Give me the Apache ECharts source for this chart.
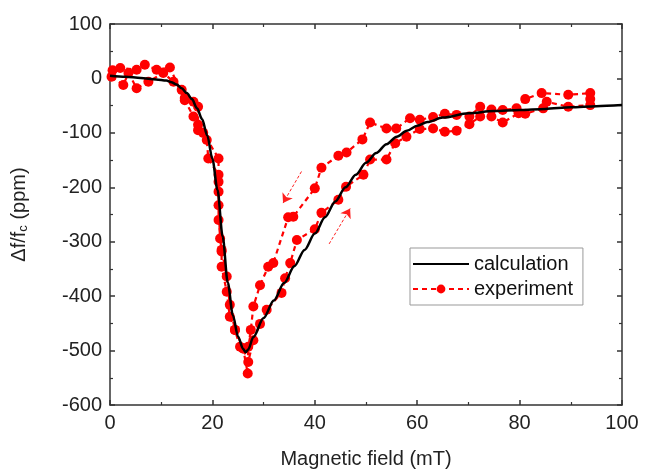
<!DOCTYPE html>
<html>
<head>
<meta charset="utf-8">
<script src="https://cdn.jsdelivr.net/npm/echarts@6/dist/echarts.min.js"></script>
<style>
html, body { margin: 0; padding: 0; background: #fff; }
#main { width: 645px; height: 474px; }
</style>
</head>
<body>
<div id="main"></div>
<script>
// calculated curve (field in mT, df/fc in ppm)
var calcX = [0, 3, 6, 9, 11, 12, 13, 14, 15, 16, 17, 18, 19, 20, 21, 22, 23, 24, 25, 26, 26.5, 27, 28, 30, 32, 34, 36, 38, 40, 42, 44, 46, 48, 50, 52, 54, 56, 58, 60, 62, 65, 70, 75, 80, 85, 90, 95, 100];
var calcY = [5, 3, 1, -2, -4, -7, -11, -18, -27, -38, -55, -75, -105, -148, -205, -290, -375, -435, -474, -497, -503, -498, -475, -440, -408, -376, -345, -315, -285, -255, -226, -200, -177, -155, -137, -121, -107, -96, -87, -80, -72, -64, -60, -58, -56, -53, -51, -49];

// measured loop: field up first, then back down
var expX = [0.3, 2.6, 3.6, 5.2, 7.5, 10.4, 12.4, 14, 14.6, 16.3, 17.2, 17.2, 18.9, 19.2, 21.2, 21.2, 21.2, 21.8, 21.8, 22.8, 23.4, 24.4, 25.4, 26, 27, 28, 29.3, 30.6, 33.5, 34.2, 35.2, 36.5, 40, 41.3, 44.6, 46.1, 49.5, 50.8, 54, 55.7, 57.9, 60.5, 63.1, 65.4, 67.7, 70.2, 72.3, 74.5, 76.7, 79.8, 81.1, 84.6, 85.3, 89.5, 93.8, 93.8,
            93.8, 89.5, 84.3, 81.1, 79.4, 76.7, 74.5, 72.3, 70.2, 67.7, 65.4, 63.1, 60.5, 58.6, 55.9, 54, 50.8, 49.3, 46.2, 44.6, 41.3, 40, 35.8, 34.8, 31.9, 30.9, 29.3, 28, 27.5, 27, 26.9, 26, 24.4, 23.4, 22.8, 21.8, 21.5, 21.2, 21.2, 21.2, 18.2, 17.2, 16.3, 14.6, 11.7, 9.1, 6.8, 5.2, 2, 0.5];
var expY = [3, -12, 10, -18, -6, 10, -6, -21, -36, -43, -52, -85, -113, -147, -177, -208, -260, -318, -346, -392, -438, -462, -493, -496, -521, -481, -451, -425, -394, -367, -339, -297, -277, -247, -223, -199, -177, -149, -149, -119, -107, -93, -92, -98, -96, -84, -70, -70, -81, -64, -65, -55, -43, -52, -49, -38,
            -27, -30, -27, -38, -55, -58, -57, -52, -70, -67, -65, -71, -76, -73, -92, -92, -81, -112, -136, -142, -164, -202, -254, -255, -339, -346, -380, -419, -462, -493, -542, -496, -462, -416, -364, -315, -294, -233, -190, -147, -100, -95, -70, -40, 20, 16, 25, 16, 19, 15];

// sweep direction arrows [x0, y0, x1, y1]
var arrowDown = [37.4, -171, 33.8, -229];
var arrowUp = [42.8, -304, 46.9, -239];

var xTicks = { min: 0, max: 100, interval: 20 };
var yTicks = { min: -600, max: 100, interval: 100 };

function pairs(xs, ys) {
	return xs.map(function(x, i) { return [x, ys[i]]; });
}

var myChart = echarts.init(document.getElementById('main'));

var axisCol = '#333';
var font = '"Liberation Sans", Arial, sans-serif';

function xAxisOpt(pos, labels) {
	return {
		type: 'value',
		position: pos,
		min: xTicks.min, max: xTicks.max, interval: xTicks.interval,
		name: labels ? 'Magnetic field (mT)' : '',
		nameLocation: 'middle',
		nameGap: 44,
		nameTextStyle: { fontFamily: font, fontSize: 20, color: '#222' },
		axisLine: { show: true, onZero: false, lineStyle: { color: axisCol, width: 1.5 } },
		axisTick: { show: true, inside: true, length: 5, lineStyle: { color: axisCol, width: 1.5 } },
		minorTick: { show: true, splitNumber: 2, length: 3, lineStyle: { color: axisCol, width: 1.2 } },
		axisLabel: { show: labels, margin: 8, fontFamily: font, fontSize: 20, color: '#222' },
		splitLine: { show: false }
	};
}

function yAxisOpt(pos, labels) {
	return {
		type: 'value',
		position: pos,
		min: yTicks.min, max: yTicks.max, interval: yTicks.interval,
		name: labels ? 'Δf/f{sub|c} (ppm)' : '',
		nameLocation: 'middle',
		nameGap: 80,
		nameTextStyle: {
			fontFamily: font, fontSize: 20, color: '#222',
			rich: { sub: { fontFamily: font, fontSize: 13, color: '#222', verticalAlign: 'bottom', padding: [8, 0, 0, 0] } }
		},
		axisLine: { show: true, onZero: false, lineStyle: { color: axisCol, width: 1.5 } },
		axisTick: { show: true, inside: true, length: 5, lineStyle: { color: axisCol, width: 1.5 } },
		minorTick: { show: true, splitNumber: 2, length: 3, lineStyle: { color: axisCol, width: 1.2 } },
		axisLabel: { show: labels, margin: 8, fontFamily: font, fontSize: 20, color: '#222' },
		splitLine: { show: false }
	};
}

var option = {
	animation: false,
	backgroundColor: '#fff',
	grid: { left: 110, right: 23, top: 24, bottom: 69 },
	xAxis: [xAxisOpt('bottom', true), xAxisOpt('top', false)],
	yAxis: [yAxisOpt('left', true), yAxisOpt('right', false)],
	legend: {
		data: [{ name: 'calculation', itemStyle: { opacity: 0 } }, 'experiment'],
		orient: 'vertical',
		left: 410,
		top: 248,
		itemWidth: 56,
		itemHeight: 11,
		itemGap: 5,
		padding: [6, 10, 6, 2],
		borderColor: '#999',
		borderWidth: 1,
		borderRadius: 0,
		textStyle: { fontFamily: font, fontSize: 20, color: '#111' }
	},
	series: [{
		name: 'experiment',
		type: 'line',
		data: pairs(expX, expY),
		symbol: 'circle',
		symbolSize: 10,
		itemStyle: { color: '#ff0000' },
		lineStyle: { color: '#ff0000', width: 2.2, type: [5, 4] },
		z: 2
	}, {
		name: 'calculation',
		type: 'line',
		data: pairs(calcX, calcY),
		symbol: 'none',
		smooth: 0.3,
		smoothMonotone: 'x',
		itemStyle: { color: '#000' },
		lineStyle: { color: '#000', width: 2.5 },
		z: 3
	}, {
		name: 'arrows',
		type: 'lines',
		coordinateSystem: 'cartesian2d',
		symbol: ['none', 'arrow'],
		symbolSize: 9,
		lineStyle: { color: '#ff2020', width: 1, type: [3, 2], opacity: 1 },
		data: [
			{ coords: [[arrowDown[0], arrowDown[1]], [arrowDown[2], arrowDown[3]]] },
			{ coords: [[arrowUp[0], arrowUp[1]], [arrowUp[2], arrowUp[3]]] }
		],
		z: 4
	}]
};

myChart.setOption(option);
</script>
</body>
</html>
